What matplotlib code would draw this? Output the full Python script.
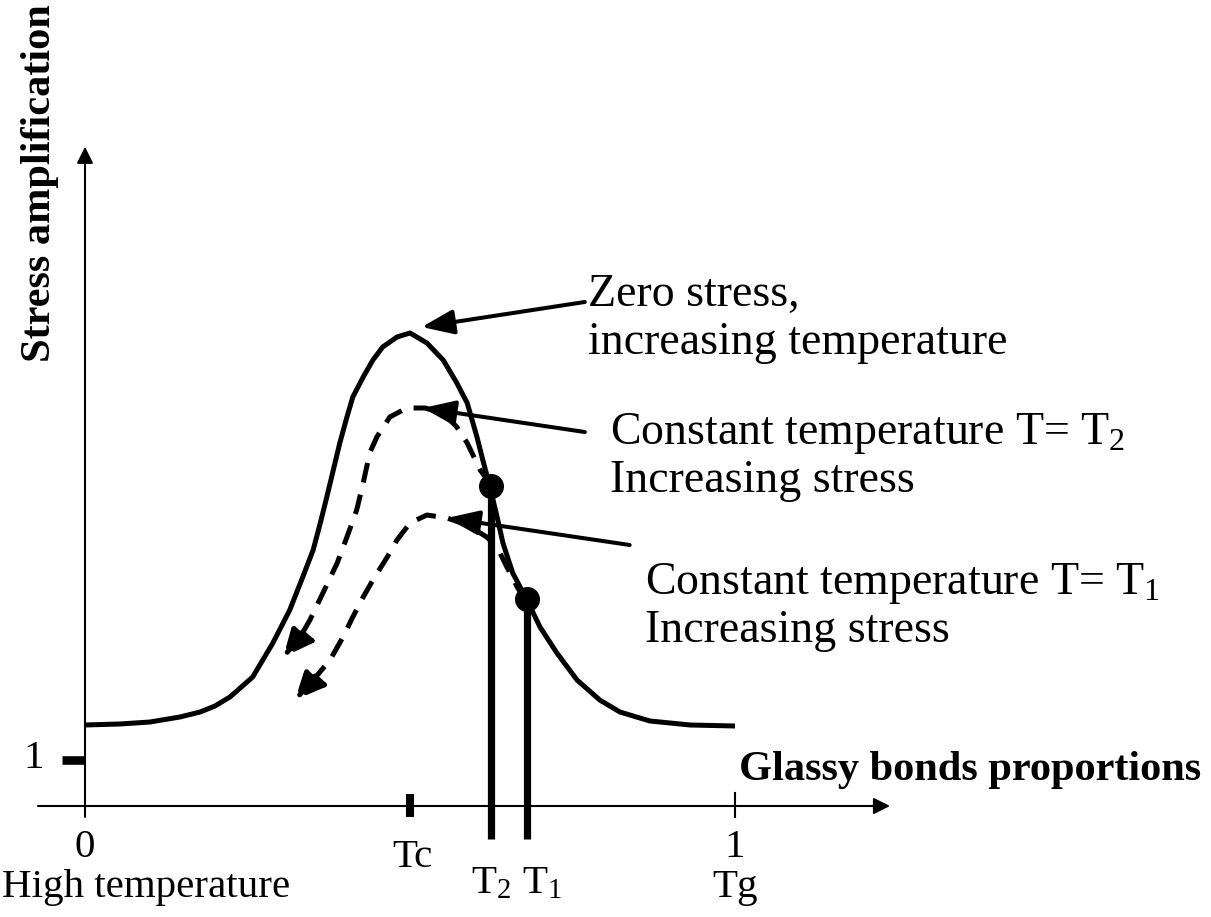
import matplotlib

matplotlib.use("Agg")
import matplotlib.pyplot as plt

plt.rcParams["font.family"] = "Liberation Serif"
plt.rcParams["mathtext.fontset"] = "custom"
plt.rcParams["mathtext.rm"] = "Liberation Serif"
plt.rcParams["mathtext.it"] = "Liberation Serif:italic"

# glassy bond proportion (x) vs stress amplification (y)
zero_x = [0.000, 0.054, 0.100, 0.146, 0.177, 0.200, 0.223, 0.258, 0.289, 0.315, 0.335, 0.351, 0.362, 0.372,
          0.382, 0.392, 0.403, 0.412, 0.428, 0.443, 0.458, 0.480, 0.500, 0.526, 0.551, 0.572, 0.588, 0.603,
          0.612, 0.623, 0.634, 0.643, 0.658, 0.680, 0.700, 0.726, 0.757, 0.792, 0.823, 0.869, 0.931, 1.000]
zero_y = [1.761, 1.783, 1.826, 1.935, 2.043, 2.174, 2.370, 2.804, 3.543, 4.261, 4.978, 5.565, 6.152, 6.717,
          7.304, 7.891, 8.457, 8.891, 9.326, 9.696, 9.978, 10.196, 10.283, 10.065, 9.696, 9.196, 8.761, 8.022,
          7.522, 6.935, 6.283, 5.717, 5.065, 4.478, 3.891, 3.326, 2.739, 2.304, 2.043, 1.848, 1.761, 1.739]

# constant temperature T = T2, increasing stress (last point = arrow tip)
t2_x = [0.625, 0.608, 0.588, 0.572, 0.551, 0.523, 0.495, 0.469, 0.449, 0.438, 0.428, 0.418, 0.403, 0.388,
        0.366, 0.346, 0.331, 0.305]
t2_y = [6.978, 7.304, 7.891, 8.239, 8.543, 8.652, 8.652, 8.457, 8.022, 7.674, 7.022, 6.435, 5.848, 5.283,
        4.630, 4.043, 3.674, 3.239]

# constant temperature T = T1, increasing stress
t1_x = [0.677, 0.665, 0.649, 0.634, 0.618, 0.588, 0.557, 0.526, 0.500, 0.480, 0.465, 0.443, 0.428, 0.412,
        0.397, 0.377, 0.351, 0.323]
t1_y = [4.478, 4.761, 5.196, 5.630, 5.848, 6.109, 6.261, 6.326, 6.152, 5.783, 5.413, 4.913, 4.543, 4.109,
        3.674, 3.174, 2.739, 2.304]

tc = 0.5
t2 = (0.625, 6.95)
t1 = (0.680, 4.50)

# (line 1, line 2, arrow tail, arrow tip, text position)
notes = [
    ("Zero stress,", "increasing temperature", (0.769, 10.957), (0.518, 10.413), (0.774, 10.870)),
    ("Constant temperature T= T$_2$", "Increasing stress", (0.769, 8.130), (0.520, 8.652), (0.808, 7.870)),
    ("Constant temperature T= T$_1$", "Increasing stress", (0.838, 5.674), (0.557, 6.261), (0.862, 4.609)),
]

fig = plt.figure(figsize=(12.11, 9.17), dpi=100)
ax = fig.add_axes([0, 0, 1, 1])
ax.set_xlim(-85 / 650, 1126 / 650)
ax.set_ylim(-111 / 46, 806 / 46)
ax.axis("off")

fs = 29.5
note_fs = 33
axis_lw = 1.5

# axes with arrow heads
ax.annotate("", xy=(1.2385, 0), xytext=(-0.0723, 0),
            arrowprops=dict(arrowstyle="-|>,head_length=0.9,head_width=0.45", lw=axis_lw, color="k",
                            mutation_scale=11, shrinkA=0, shrinkB=0))
ax.annotate("", xy=(0, 14.33), xytext=(0, -0.239),
            arrowprops=dict(arrowstyle="-|>,head_length=0.9,head_width=0.45", lw=axis_lw, color="k",
                            mutation_scale=11, shrinkA=0, shrinkB=0))

# ticks
ax.plot([1, 1], [-0.239, 0.283], color="k", lw=axis_lw)
ax.plot([tc, tc], [-0.239, 0.261], color="k", lw=5.8, solid_capstyle="butt")
ax.plot([-0.0354, 0], [1, 1], color="k", lw=6.2, solid_capstyle="butt")

# curves
ax.plot(zero_x, zero_y, color="k", lw=3.6, solid_capstyle="butt", solid_joinstyle="round")
for xs, ys in [(t2_x, t2_y), (t1_x, t1_y)]:
    ax.plot(xs[:-1], ys[:-1], color="k", lw=3.6, ls=(0, (4, 2.5)))
    ax.annotate("", xy=(xs[-1], ys[-1]), xytext=(xs[-2], ys[-2]),
                arrowprops=dict(arrowstyle="-|>,head_length=1.2,head_width=0.55", lw=3.6, color="k",
                                ls=(0, (4, 2.5)), mutation_scale=15, shrinkA=0, shrinkB=0))

# T2 / T1 markers
for px, py in [t2, t1]:
    ax.plot([px, px], [py, -0.717], color="k", lw=5.2, solid_capstyle="butt")
    ax.plot(px, py, "o", color="k", ms=17)

# annotations
for line1, line2, tail, tip, pos in notes:
    ax.annotate("", xy=tip, xytext=tail,
                arrowprops=dict(arrowstyle="-|>,head_length=1.3,head_width=0.5", lw=2.9, color="k",
                                mutation_scale=15, shrinkA=0, shrinkB=0))
    ax.text(pos[0], pos[1], line1, fontsize=note_fs, ha="left", va="baseline")
    ax.text(pos[0], pos[1] - 48 / 46, line2, fontsize=note_fs, ha="left", va="baseline")

# axis labels
ax.text(-0.069, 13.54, "Stress amplification", fontsize=30.5, fontweight="bold", rotation=90,
        ha="center", va="center")
ax.text(1.006, 0.565, "Glassy bonds proportions", fontsize=30.5, fontweight="bold", ha="left", va="baseline")

ax.text(0, -1.109, "0", fontsize=fs, ha="center", va="baseline")
ax.text(-0.128, -1.978, "High temperature", fontsize=fs, ha="left", va="baseline")
ax.text(0.503, -1.326, "Tc", fontsize=fs, ha="center", va="baseline")
ax.text(0.594, -1.891, "T$_2$", fontsize=fs, ha="left", va="baseline")
ax.text(0.672, -1.891, "T$_1$", fontsize=fs, ha="left", va="baseline")
ax.text(1, -1.109, "1", fontsize=fs, ha="center", va="baseline")
ax.text(1, -1.978, "Tg", fontsize=fs, ha="center", va="baseline")
ax.text(-0.063, 0.826, "1", fontsize=fs, ha="right", va="baseline")

fig.savefig("out.png", dpi=100)
